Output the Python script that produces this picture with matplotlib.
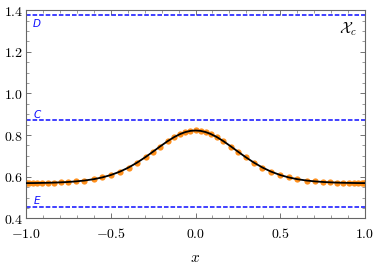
import numpy as np
import matplotlib
matplotlib.use("Agg")
import matplotlib.pyplot as plt
from matplotlib.ticker import MultipleLocator, FuncFormatter

plt.rcParams["mathtext.fontset"] = "cm"
plt.rcParams["font.family"] = ["DejaVu Sans"]

# sample points
x_pts = [-1.0, -0.993, -0.98, -0.96, -0.935, -0.905, -0.87, -0.835, -0.795,
         -0.755, -0.705, -0.655, -0.60, -0.55, -0.50, -0.445, -0.395, -0.345,
         -0.295, -0.25, -0.21, -0.165, -0.125, -0.09, -0.06, -0.03, 0.0,
         0.03, 0.06, 0.09, 0.125, 0.165, 0.21, 0.25, 0.295, 0.345, 0.395,
         0.445, 0.50, 0.55, 0.60, 0.655, 0.705, 0.755, 0.795, 0.835, 0.87,
         0.905, 0.935, 0.96, 0.98, 0.993, 1.0]
y_pts = [0.5693, 0.5694, 0.5695, 0.5696, 0.5699, 0.5704, 0.5710, 0.5718, 0.5731,
         0.5747, 0.5776, 0.5817, 0.5883, 0.5967, 0.6081, 0.6248, 0.6442, 0.6676,
         0.6945, 0.7208, 0.7447, 0.7705, 0.7908, 0.8052, 0.8144, 0.8201, 0.8220,
         0.8201, 0.8144, 0.8052, 0.7908, 0.7705, 0.7447, 0.7208, 0.6945, 0.6676, 0.6442,
         0.6248, 0.6081, 0.5967, 0.5883, 0.5817, 0.5776, 0.5747, 0.5731, 0.5718, 0.5710,
         0.5704, 0.5699, 0.5696, 0.5695, 0.5694, 0.5693]

# reference levels
level_names = ["D", "C", "E"]
level_values = [1.376, 0.870, 0.454]
label_y = [1.333, 0.896, 0.482]

fig = plt.figure(figsize=(3.74, 2.66), dpi=100)
ax = fig.add_axes([0.0695, 0.179, 0.9065, 0.783])

for name, v, ly in zip(level_names, level_values, label_y):
    ax.axhline(v, color="#0d0dff", ls=(0, (3, 1.3)), lw=1.1)
    ax.text(-0.935, ly, name, color="#0d0dff", fontsize=7.5, style="italic",
            ha="center", va="center")

ax.plot(x_pts, y_pts, "o", color="#ff8a10", ms=4.5, mec="none", alpha=0.95, zorder=2)
ax.plot(x_pts, y_pts, "-", color="black", lw=1.3, zorder=3)

ax.text(0.90, 1.309, r"$\mathcal{X}_c$", fontsize=11, ha="center", va="center")

ax.set_xlim(-1, 1)
ax.set_ylim(0.4, 1.4)
ax.xaxis.set_major_locator(MultipleLocator(0.5))
ax.xaxis.set_minor_locator(MultipleLocator(0.1))
ax.yaxis.set_major_locator(MultipleLocator(0.2))
ax.yaxis.set_minor_locator(MultipleLocator(0.05))
fmt = FuncFormatter(lambda v, p: r"$%.1f$" % v)
ax.xaxis.set_major_formatter(fmt)
ax.yaxis.set_major_formatter(fmt)
ax.tick_params(which="both", direction="in", top=True, right=True,
               color="0.45", labelsize=10)
ax.tick_params(axis="x", pad=6)
ax.tick_params(axis="y", pad=2)
ax.tick_params(which="major", length=3.5, width=0.7)
ax.tick_params(which="minor", length=2, width=0.5)
for s in ax.spines.values():
    s.set_color("0.4")
    s.set_linewidth(0.8)

ax.set_xlabel(r"$x$", fontsize=11, labelpad=7)

fig.savefig("out.png", dpi=100)
